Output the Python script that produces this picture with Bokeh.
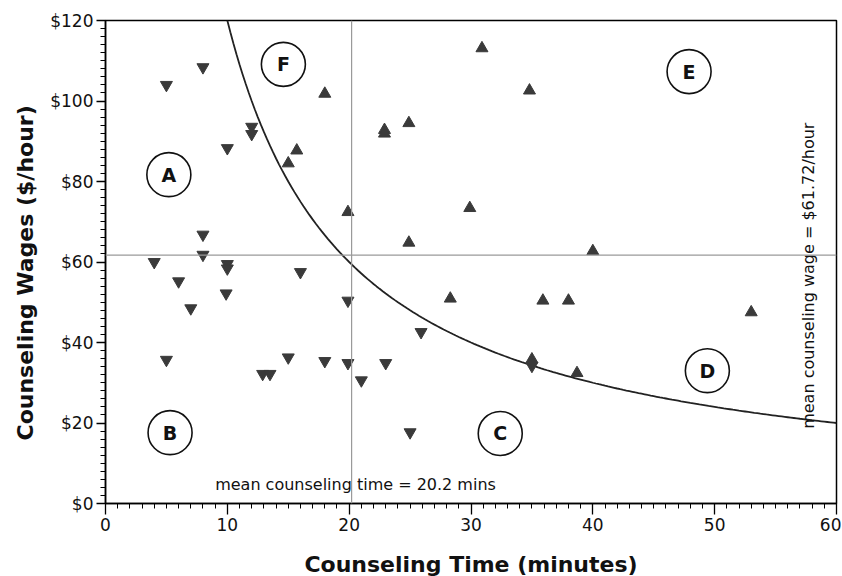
import math
from bokeh.plotting import figure
from bokeh.models import ColumnDataSource, Span, NumeralTickFormatter, FixedTicker, Title
from bokeh.core.properties import value
from bokeh.embed import file_html
from bokeh.resources import INLINE

# --- data ---
below_time = [5, 8, 12, 12, 10, 8, 8, 4, 10, 10, 16, 6, 9.9, 7, 19.9, 5, 12.9, 13.5,
              15, 18, 19.9, 21, 23, 25.9, 25, 35]
below_wage = [104, 108.4, 93.6, 91.8, 88.3, 66.8, 61.8, 60, 59.5, 58.4, 57.5, 55.2, 52.2,
              48.5, 50.4, 35.7, 32.2, 32.2, 36.3, 35.4, 34.9, 30.6, 34.9, 42.6, 17.7, 34.2]
above_time = [15.7, 15, 18, 19.9, 22.9, 22.9, 24.9, 29.9, 24.9, 30.9, 34.8, 28.3, 35.9, 38,
              40, 53, 35, 38.7]
above_wage = [87.7, 84.5, 101.8, 72.4, 92.8, 91.9, 94.5, 73.4, 64.8, 113.1, 102.6, 50.9,
              50.4, 50.4, 62.7, 47.5, 35.8, 32.4]
region_labels = ["A", "B", "C", "D", "E", "F"]
region_time = [5.2, 5.3, 32.4, 49.4, 47.9, 14.6]
region_wage = [81.7, 17.6, 17.4, 33.0, 107.3, 109.1]
mean_time = 20.2
mean_wage = 61.72
revenue_per_session = 20.0  # $ per session -> iso-revenue curve
x_ticks = [0, 10, 20, 30, 40, 50, 60]
y_ticks = [0, 20, 40, 60, 80, 100, 120]

curve_t = [10 + i * 0.25 for i in range(0, 201)]
curve_w = [revenue_per_session * 60.0 / t for t in curve_t]

FONT = "DejaVu Sans"

p = figure(frame_width=731, frame_height=483, x_range=(0, 60), y_range=(0, 120),
           output_backend="svg", toolbar_location=None,
           min_border_left=105, min_border_top=20, min_border_right=5, min_border_bottom=70)
p.xgrid.visible = False
p.ygrid.visible = False
p.outline_line_color = "black"
p.outline_line_width = 1.5
p.background_fill_color = "white"
p.border_fill_color = "white"

# mean lines
p.add_layout(Span(location=mean_time, dimension="height", line_color="#9a9a9a", line_width=1.2))
p.add_layout(Span(location=mean_wage, dimension="width", line_color="#9a9a9a", line_width=1.2))

# iso-revenue curve
p.line(curve_t, curve_w, line_color="#222222", line_width=1.8)

# points
p.scatter(below_time, below_wage, marker="inverted_triangle", size=12,
          fill_color="#3a3a3a", line_color="#3a3a3a")
p.scatter(above_time, above_wage, marker="triangle", size=12,
          fill_color="#3a3a3a", line_color="#3a3a3a")

# region labels
src = ColumnDataSource(dict(x=region_time, y=region_wage, t=region_labels))
p.scatter("x", "y", source=src, marker="circle", size=44, fill_color=None,
          line_color="#111111", line_width=1.6)
p.text("x", "y", text="t", source=src, text_align="center", text_baseline="middle",
       text_font=value(FONT), text_font_size="19px", text_font_style="bold", text_color="#111111")

# annotation texts
p.text(x=[9.0], y=[4.7], text=["mean counseling time = 20.2 mins"], text_align="left",
       text_baseline="middle", text_font=value(FONT), text_font_size="16px", text_color="#111111")
p.text(x=[57.7], y=[56.6], text=["mean counseling wage = $61.72/hour"], angle=math.pi / 2,
       text_align="center", text_baseline="middle", text_font=value(FONT),
       text_font_size="16px", text_color="#111111")

# axes
p.xaxis.ticker = FixedTicker(ticks=x_ticks, minor_ticks=list(range(0, 61)))
p.yaxis.ticker = FixedTicker(ticks=y_ticks, minor_ticks=list(range(0, 121, 2)))
p.yaxis.formatter = NumeralTickFormatter(format="$0")
for ax in (p.xaxis[0], p.yaxis[0]):
    ax.axis_line_color = "black"
    ax.axis_line_width = 1.5
    ax.major_tick_line_color = "black"
    ax.minor_tick_line_color = "black"
    ax.major_tick_line_width = 1.3
    ax.minor_tick_line_width = 1
    ax.major_tick_in = 0
    ax.minor_tick_in = 0
    ax.major_label_text_font = FONT
    ax.major_label_text_font_size = "17px"
    ax.major_label_text_color = "#111111"
    ax.axis_label_text_font = FONT
    ax.axis_label_text_font_size = "22px"
    ax.axis_label_text_font_style = "bold"
    ax.axis_label_text_color = "#111111"
p.xaxis.major_tick_out = 11
p.xaxis.minor_tick_out = 5
p.yaxis.major_tick_out = 9
p.yaxis.minor_tick_out = 5
p.xaxis.major_label_standoff = 3
p.yaxis.major_label_standoff = 3
p.xaxis.axis_label = "Counseling Time (minutes)"
p.xaxis.axis_label_standoff = 18

# y-axis title, placed slightly below the frame centre as in the original
p.add_layout(Title(text="Counseling Wages ($/hour)", align="left", offset=63,
                   text_font=FONT, text_font_size="22px", text_font_style="bold",
                   text_color="#111111", standoff=20), "left")

open("out.html", "w").write(file_html(p, INLINE))
